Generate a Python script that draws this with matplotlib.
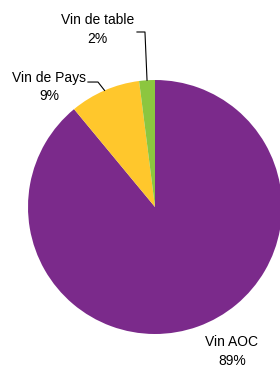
import numpy as np
import matplotlib.pyplot as plt

labels = ['Vin AOC', 'Vin de Pays', 'Vin de table']
values = [89, 9, 2]
colors = ['#7B2A8B', '#FFC72C', '#8CC63F']

plt.rcParams['font.family'] = ['Liberation Sans', 'DejaVu Sans']

fig = plt.figure(figsize=(2.8, 3.69), dpi=100)
ax = fig.add_axes([0, 0, 1, 1])
ax.pie(values, colors=colors, startangle=90, counterclock=False,
       radius=1, wedgeprops=dict(linewidth=0))
ax.set_xlim(-155 / 127, 125 / 127)
ax.set_ylim(-162 / 127, 207 / 127)
ax.set_aspect('auto')
ax.axis('off')

# mid angles of each slice (degrees)
tot = float(sum(values))
start = 90.0
mids = []
for v in values:
    span = 360.0 * v / tot
    mids.append(np.radians(start - span / 2))
    start -= span

def edge(i):
    return np.cos(mids[i]), np.sin(mids[i])

# Vin de table leader
ex, ey = edge(2)
ax.plot([-0.142, -0.079, ex], [1.378, 1.378, ey], color='black', lw=0.8)
# Vin de Pays leader
ex, ey = edge(1)
ax.plot([-0.528, -0.449, ex], [0.984, 0.984, ey], color='black', lw=0.8)

fs = 10
ax.text(-0.455, 1.395, 'Vin de table\n%d%%' % values[2], ha='center', va='center',
        fontsize=fs, linespacing=1.45)
ax.text(-0.835, 0.945, 'Vin de Pays\n%d%%' % values[1], ha='center', va='center',
        fontsize=fs, linespacing=1.45)
ax.text(0.605, -1.135, 'Vin AOC\n%d%%' % values[0], ha='center', va='center',
        fontsize=fs, linespacing=1.45)

fig.savefig('out.png', dpi=100)
